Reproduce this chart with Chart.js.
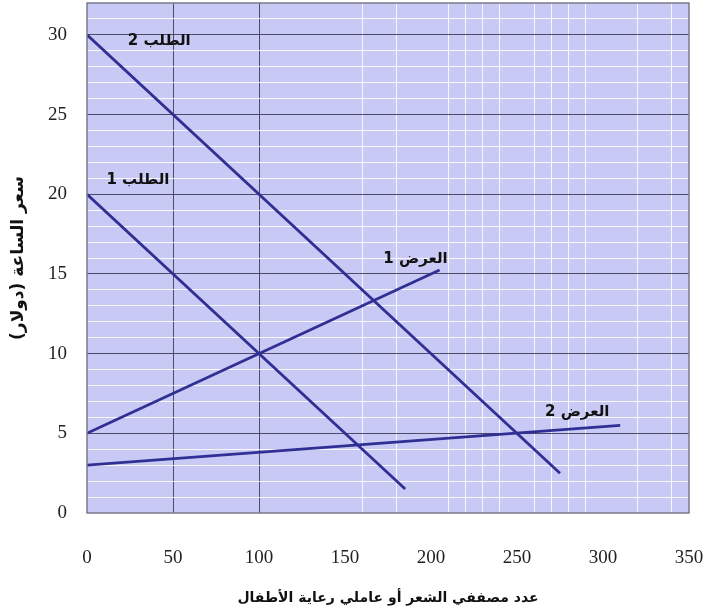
<!DOCTYPE html>
<html>
<head>
<meta charset="utf-8">
<script src="https://cdn.jsdelivr.net/npm/chart.js@4/dist/chart.umd.min.js"></script>
<style>
html,body{margin:0;padding:0;background:#fff;}
#wrap{width:706px;height:611px;}
</style>
</head>
<body>
<div id="wrap"><canvas id="c" width="706" height="611"></canvas></div>
<script>
// ---- data ----
const seriesNames = ['الطلب 1', 'الطلب 2', 'العرض 1', 'العرض 2'];
const demand1X = [0, 185];
const demand1Y = [20, 1.5];
const demand2X = [0, 275];
const demand2Y = [30, 2.5];
const supply1X = [0, 205];
const supply1Y = [5, 15.25];
const supply2X = [0, 310];
const supply2Y = [3, 5.5];
const xTickLabels = [0, 50, 100, 150, 200, 250, 300, 350];
const yTickLabels = [0, 5, 10, 15, 20, 25, 30];
const xTitle = 'عدد مصففي الشعر أو عاملي رعاية الأطفال';
const yTitle = 'سعر الساعة (دولار)';
// label anchors in data units (x, y)
const labelAnchorX = [29.6, 42, 191, 285];
const labelAnchorY = [20.9, 29.6, 15.9, 6.35];

const toPts = (xs, ys) => xs.map((x, i) => ({x: x, y: ys[i]}));
const lineColor = '#2f2f94';
const darkGrid = '#4c4c68';
const whiteGrid = 'rgba(255,255,255,0.85)';
const whiteXLines = [160,180,210,220,230,240,260,270,280,290,320,340];

const bgPlugin = {
  id: 'bg',
  beforeDraw(chart) {
    const {ctx, chartArea: a} = chart;
    ctx.save();
    ctx.fillStyle = '#c9c9f5';
    ctx.fillRect(a.left, a.top, a.right - a.left, a.bottom - a.top);
    ctx.restore();
  },
  afterDraw(chart) {
    const {ctx, chartArea: a, scales} = chart;
    ctx.save();
    ctx.strokeStyle = '#7a7a88';
    ctx.lineWidth = 1.5;
    ctx.strokeRect(a.left, a.top, a.right - a.left, a.bottom - a.top);
    // series labels
    ctx.fillStyle = '#111';
    ctx.font = 'bold 15px "DejaVu Sans", "Liberation Sans", sans-serif';
    ctx.textAlign = 'center';
    ctx.textBaseline = 'middle';
    ctx.direction = 'rtl';
    seriesNames.forEach((n, i) => {
      const px = scales.x.getPixelForValue(labelAnchorX[i]);
      const py = scales.y.getPixelForValue(labelAnchorY[i]);
      ctx.fillText(n, px, py);
    });
    // axis titles
    ctx.font = 'bold 14px "DejaVu Sans", "Liberation Sans", sans-serif';
    ctx.fillText(xTitle, (a.left + a.right) / 2, 598);
    ctx.translate(19, (a.top + a.bottom) / 2);
    ctx.rotate(-Math.PI / 2);
    ctx.font = 'bold 17px "DejaVu Sans", "Liberation Sans", sans-serif';
    ctx.fillText(yTitle, 0, 0);
    ctx.restore();
  }
};

new Chart(document.getElementById('c'), {
  type: 'line',
  data: {
    datasets: [
      {label: seriesNames[0], data: toPts(demand1X, demand1Y)},
      {label: seriesNames[1], data: toPts(demand2X, demand2Y)},
      {label: seriesNames[2], data: toPts(supply1X, supply1Y)},
      {label: seriesNames[3], data: toPts(supply2X, supply2Y)}
    ].map(d => Object.assign(d, {
      borderColor: lineColor, borderWidth: 2.8, pointRadius: 0, tension: 0, fill: false
    }))
  },
  options: {
    responsive: false,
    animation: false,
    devicePixelRatio: 1,
    layout: {padding: {top: 3, right: 17, left: 0, bottom: 0}},
    plugins: {legend: {display: false}, tooltip: {enabled: false}},
    scales: {
      x: {
        type: 'linear', min: 0, max: 350,
        afterFit(s) { s.height = 98; s.paddingLeft = 0; s.paddingRight = 0; },
        ticks: {
          stepSize: 10, autoSkip: false, maxRotation: 0, padding: 34,
          color: '#222',
          font: {family: '"Liberation Serif", "Times New Roman", serif', size: 19},
          callback: v => xTickLabels.includes(v) ? String(v) : ''
        },
        grid: {
          drawTicks: false, lineWidth: 1,
          color: c => {
            const v = c.tick ? c.tick.value : null;
            if (v === 50 || v === 100) return darkGrid;
            if (whiteXLines.includes(v)) return whiteGrid;
            return 'rgba(0,0,0,0)';
          }
        },
        border: {display: false}
      },
      y: {
        type: 'linear', min: 0, max: 32,
        afterFit(s) { s.width = 87; s.paddingTop = 0; s.paddingBottom = 0; },
        ticks: {
          stepSize: 1, autoSkip: false, padding: 20,
          color: '#222',
          font: {family: '"Liberation Serif", "Times New Roman", serif', size: 19},
          callback: v => yTickLabels.includes(v) ? String(v) : ''
        },
        grid: {
          drawTicks: false, lineWidth: 1,
          color: c => {
            const v = c.tick ? c.tick.value : null;
            if (v === 0 || v === 32) return 'rgba(0,0,0,0)';
            if (v % 5 === 0) return darkGrid;
            return whiteGrid;
          }
        },
        border: {display: false}
      }
    }
  },
  plugins: [bgPlugin]
});
</script>
</body>
</html>
